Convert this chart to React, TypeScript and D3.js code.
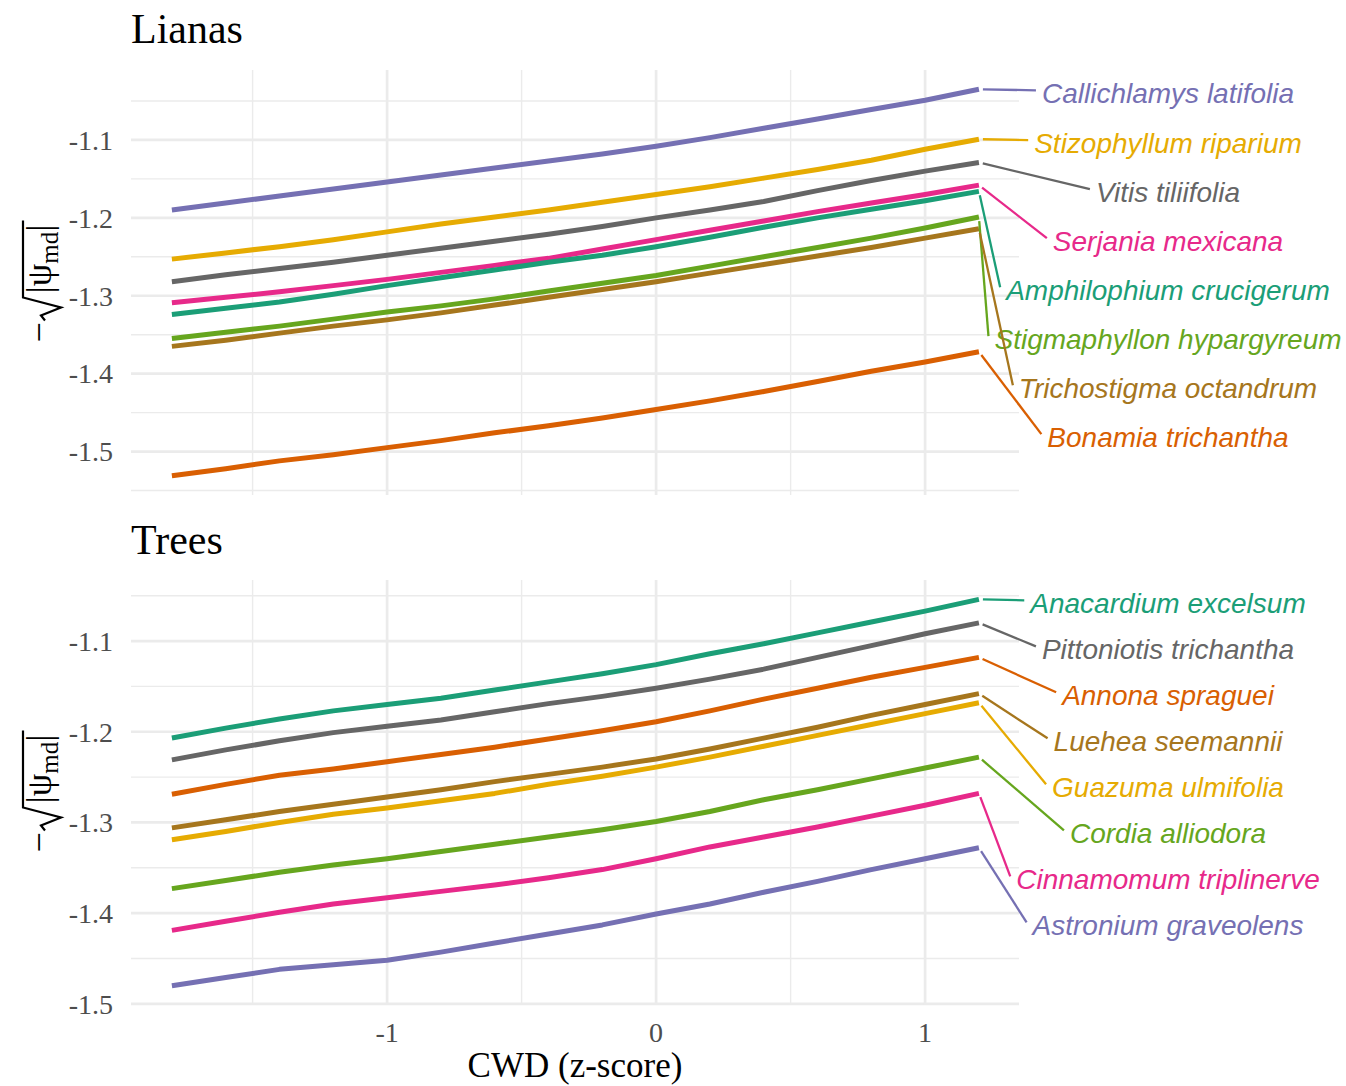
import React, { useEffect, useRef } from "react";
import * as d3 from "d3";

// CWD z-score positions along each fitted line
const cwd = [-1.8, -1.6, -1.4, -1.2, -1.0, -0.8, -0.6, -0.4, -0.2, 0, 0.2, 0.4, 0.6, 0.8, 1.0, 1.2];

// Lianas
const lianaNames = [
  "Callichlamys latifolia",
  "Stizophyllum riparium",
  "Vitis tiliifolia",
  "Serjania mexicana",
  "Amphilophium crucigerum",
  "Stigmaphyllon hypargyreum",
  "Trichostigma octandrum",
  "Bonamia trichantha",
];
const lianaColors = ["#7570B3", "#E6AB02", "#666666", "#E7298A", "#1B9E77", "#66A61E", "#A6761D", "#D95F02"];
const callichlamys = [-1.190, -1.181, -1.172, -1.163, -1.154, -1.145, -1.136, -1.127, -1.118, -1.108, -1.097, -1.085, -1.073, -1.061, -1.049, -1.035];
const stizophyllum = [-1.253, -1.245, -1.237, -1.228, -1.218, -1.208, -1.199, -1.190, -1.180, -1.170, -1.160, -1.149, -1.138, -1.126, -1.112, -1.099];
const vitis = [-1.282, -1.273, -1.265, -1.257, -1.248, -1.239, -1.230, -1.221, -1.211, -1.200, -1.190, -1.179, -1.165, -1.152, -1.140, -1.129];
const serjania = [-1.309, -1.302, -1.295, -1.287, -1.279, -1.270, -1.261, -1.252, -1.240, -1.228, -1.216, -1.204, -1.192, -1.181, -1.170, -1.158];
const amphilophium = [-1.324, -1.316, -1.308, -1.298, -1.287, -1.277, -1.267, -1.257, -1.248, -1.237, -1.225, -1.212, -1.200, -1.189, -1.178, -1.166];
const stigmaphyllon = [-1.355, -1.347, -1.339, -1.330, -1.321, -1.313, -1.304, -1.294, -1.284, -1.274, -1.262, -1.250, -1.238, -1.226, -1.213, -1.199];
const trichostigma = [-1.365, -1.357, -1.348, -1.339, -1.331, -1.322, -1.312, -1.302, -1.292, -1.282, -1.271, -1.260, -1.249, -1.238, -1.226, -1.214];
const bonamia = [-1.531, -1.522, -1.512, -1.504, -1.495, -1.486, -1.476, -1.467, -1.457, -1.446, -1.435, -1.423, -1.410, -1.397, -1.385, -1.372];
const lianaValues = [callichlamys, stizophyllum, vitis, serjania, amphilophium, stigmaphyllon, trichostigma, bonamia];

// Trees
const treeNames = [
  "Anacardium excelsum",
  "Pittoniotis trichantha",
  "Annona spraguei",
  "Luehea seemannii",
  "Guazuma ulmifolia",
  "Cordia alliodora",
  "Cinnamomum triplinerve",
  "Astronium graveolens",
];
const treeColors = ["#1B9E77", "#666666", "#D95F02", "#A6761D", "#E6AB02", "#66A61E", "#E7298A", "#7570B3"];
const anacardium = [-1.207, -1.196, -1.186, -1.177, -1.170, -1.163, -1.154, -1.145, -1.136, -1.126, -1.114, -1.103, -1.091, -1.079, -1.067, -1.054];
const pittoniotis = [-1.231, -1.220, -1.210, -1.201, -1.194, -1.187, -1.178, -1.169, -1.161, -1.152, -1.142, -1.131, -1.118, -1.105, -1.092, -1.080];
const annona = [-1.269, -1.258, -1.248, -1.241, -1.233, -1.225, -1.217, -1.208, -1.199, -1.189, -1.177, -1.164, -1.152, -1.140, -1.129, -1.118];
const luehea = [-1.306, -1.297, -1.288, -1.280, -1.272, -1.264, -1.255, -1.247, -1.239, -1.230, -1.219, -1.207, -1.195, -1.182, -1.170, -1.158];
const guazuma = [-1.319, -1.310, -1.300, -1.291, -1.284, -1.276, -1.268, -1.258, -1.249, -1.239, -1.228, -1.216, -1.204, -1.192, -1.180, -1.168];
const cordia = [-1.373, -1.364, -1.355, -1.347, -1.340, -1.332, -1.324, -1.316, -1.308, -1.299, -1.288, -1.275, -1.264, -1.252, -1.240, -1.228];
const cinnamomum = [-1.419, -1.409, -1.399, -1.390, -1.383, -1.376, -1.369, -1.361, -1.352, -1.340, -1.327, -1.316, -1.305, -1.293, -1.281, -1.268];
const astronium = [-1.480, -1.471, -1.462, -1.457, -1.452, -1.443, -1.433, -1.423, -1.413, -1.401, -1.390, -1.377, -1.365, -1.352, -1.340, -1.328];
const treeValues = [anacardium, pittoniotis, annona, luehea, guazuma, cordia, cinnamomum, astronium];

const yMajorTicks = [-1.5, -1.4, -1.3, -1.2, -1.1];
const yTickLabels = ["-1.5", "-1.4", "-1.3", "-1.2", "-1.1"];
const yMinorTicks = [-1.55, -1.45, -1.35, -1.25, -1.15, -1.05];
const xMajorTicks = [-1, 0, 1];
const xMinorTicks = [-1.5, -0.5, 0.5];
const xTickLabels = ["-1", "0", "1"];

const W = 1346;
const H = 1086;
const SERIF = "'Liberation Serif', 'Times New Roman', serif";
const SANS = "'Liberation Sans', Arial, sans-serif";

export default function App() {
  const ref = useRef<SVGSVGElement | null>(null);

  useEffect(() => {
    const svg = d3.select(ref.current);
    svg.selectAll("*").remove();

    const x = d3.scaleLinear().domain([-1.952, 1.349]).range([131, 1019]);

    const panels = [
      { title: "Lianas", names: lianaNames, colors: lianaColors, values: lianaValues, top: 70, bottom: 495, titleY: 43, gap: 49, xlabels: false },
      { title: "Trees", names: treeNames, colors: treeColors, values: treeValues, top: 580, bottom: 1005, titleY: 554, gap: 46, xlabels: true },
    ];

    panels.forEach((p) => {
      const all = p.values.flat();
      const mn = d3.min(all) as number;
      const mx = d3.max(all) as number;
      const ex = (mx - mn) * 0.05;
      const y = d3.scaleLinear().domain([mn - ex, mx + ex]).range([p.bottom, p.top]);
      const [d0, d1] = y.domain();
      const g = svg.append("g");
      const inY = (t: number) => t >= d0 && t <= d1;

      // grid
      const [xl, xr] = x.range();
      g.selectAll(".ymin").data(yMinorTicks.filter(inY)).join("line")
        .attr("x1", xl).attr("x2", xr).attr("y1", (d) => y(d)).attr("y2", (d) => y(d))
        .attr("stroke", "#EBEBEB").attr("stroke-width", 1.4);
      g.selectAll(".xmin").data(xMinorTicks).join("line")
        .attr("x1", (d) => x(d)).attr("x2", (d) => x(d)).attr("y1", p.top).attr("y2", p.bottom)
        .attr("stroke", "#EBEBEB").attr("stroke-width", 1.4);
      g.selectAll(".ymaj").data(yMajorTicks.filter(inY)).join("line")
        .attr("x1", xl).attr("x2", xr).attr("y1", (d) => y(d)).attr("y2", (d) => y(d))
        .attr("stroke", "#EBEBEB").attr("stroke-width", 2.7);
      g.selectAll(".xmaj").data(xMajorTicks).join("line")
        .attr("x1", (d) => x(d)).attr("x2", (d) => x(d)).attr("y1", p.top).attr("y2", p.bottom)
        .attr("stroke", "#EBEBEB").attr("stroke-width", 2.7);

      // y tick labels
      g.selectAll(".ytl").data(yMajorTicks.map((v, i) => ({ v, l: yTickLabels[i] })).filter((d) => inY(d.v))).join("text")
        .attr("x", 113).attr("y", (d) => y(d.v)).attr("dy", "0.35em")
        .attr("text-anchor", "end").attr("font-family", SERIF).attr("font-size", 28)
        .attr("fill", "#4D4D4D").text((d) => d.l);

      if (p.xlabels) {
        g.selectAll(".xtl").data(xMajorTicks).join("text")
          .attr("x", (d) => x(d)).attr("y", 1042).attr("text-anchor", "middle")
          .attr("font-family", SERIF).attr("font-size", 28).attr("fill", "#4D4D4D")
          .text((d, i) => xTickLabels[i]);
      }

      // title
      g.append("text").attr("x", 131).attr("y", p.titleY).attr("font-family", SERIF)
        .attr("font-size", 42).attr("fill", "#000").text(p.title);

      // y axis title  −√|ψmd|
      const cy = (p.top + p.bottom) / 2;
      const yt = g.append("g").attr("transform", `translate(51,${cy}) rotate(-90)`);
      yt.append("text").attr("x", -60).attr("y", 0).attr("font-family", SERIF).attr("font-size", 36)
        .attr("fill", "#000").text("\u2212");
      yt.append("path").attr("d", "M-38,-6 L-33,-10 L-25,10 L-15,-28 L62,-28")
        .attr("fill", "none").attr("stroke", "#000").attr("stroke-width", 2.2).attr("stroke-linejoin", "miter");
      const tt = yt.append("text").attr("x", -11).attr("y", 0).attr("font-family", SERIF).attr("font-size", 36).attr("fill", "#000");
      tt.append("tspan").text("|\u03C8");
      tt.append("tspan").attr("font-size", 25).attr("dy", 7).text("md");
      tt.append("tspan").attr("dy", -7).text("|");

      // lines
      const line = d3.line<number>().x((d, i) => x(cwd[i])).y((d) => y(d));
      g.selectAll(".series").data(p.values).join("path")
        .attr("d", (d) => line(d) as string)
        .attr("fill", "none").attr("stroke", (d, i) => p.colors[i])
        .attr("stroke-width", 5).attr("stroke-linejoin", "round").attr("stroke-linecap", "butt");

      // repelled labels
      const order = d3.range(p.values.length).sort((a, b) => d3.descending(p.values[a][cwd.length - 1], p.values[b][cwd.length - 1]));
      let prev = -Infinity;
      const labelX = 1168;
      order.forEach((i) => {
        const vals = p.values[i];
        const ex0 = x(cwd[cwd.length - 1]);
        const ey0 = y(vals[vals.length - 1]);
        const ly = Math.max(ey0 + 4, prev + p.gap);
        prev = ly;
        const t = g.append("text").attr("x", labelX).attr("y", ly).attr("dy", "0.35em")
          .attr("text-anchor", "middle").attr("font-family", SANS).attr("font-style", "italic")
          .attr("font-size", 28).attr("fill", p.colors[i]).text(p.names[i]);
        const tw = (t.node() as SVGTextElement).getComputedTextLength();
        const tx = labelX - tw / 2 - 6;
        const tyy = ly + Math.max(-3, Math.min(3, ey0 - ly));
        const dx = tx - ex0, dyy = tyy - ey0;
        const len = Math.sqrt(dx * dx + dyy * dyy);
        const sx = ex0 + (dx / len) * 4, sy = ey0 + (dyy / len) * 4;
        g.append("line").attr("x1", sx).attr("y1", sy).attr("x2", tx).attr("y2", tyy)
          .attr("stroke", p.colors[i]).attr("stroke-width", 2.3);
      });
    });

    // x axis title
    svg.append("text").attr("x", 575).attr("y", 1077).attr("text-anchor", "middle")
      .attr("font-family", SERIF).attr("font-size", 35).attr("fill", "#000").text("CWD (z-score)");
  }, []);

  return (
    <svg ref={ref} width={W} height={H} viewBox={`0 0 ${W} ${H}`}
      style={{ position: "absolute", left: 0, top: 0, background: "#fff" }} />
  );
}
